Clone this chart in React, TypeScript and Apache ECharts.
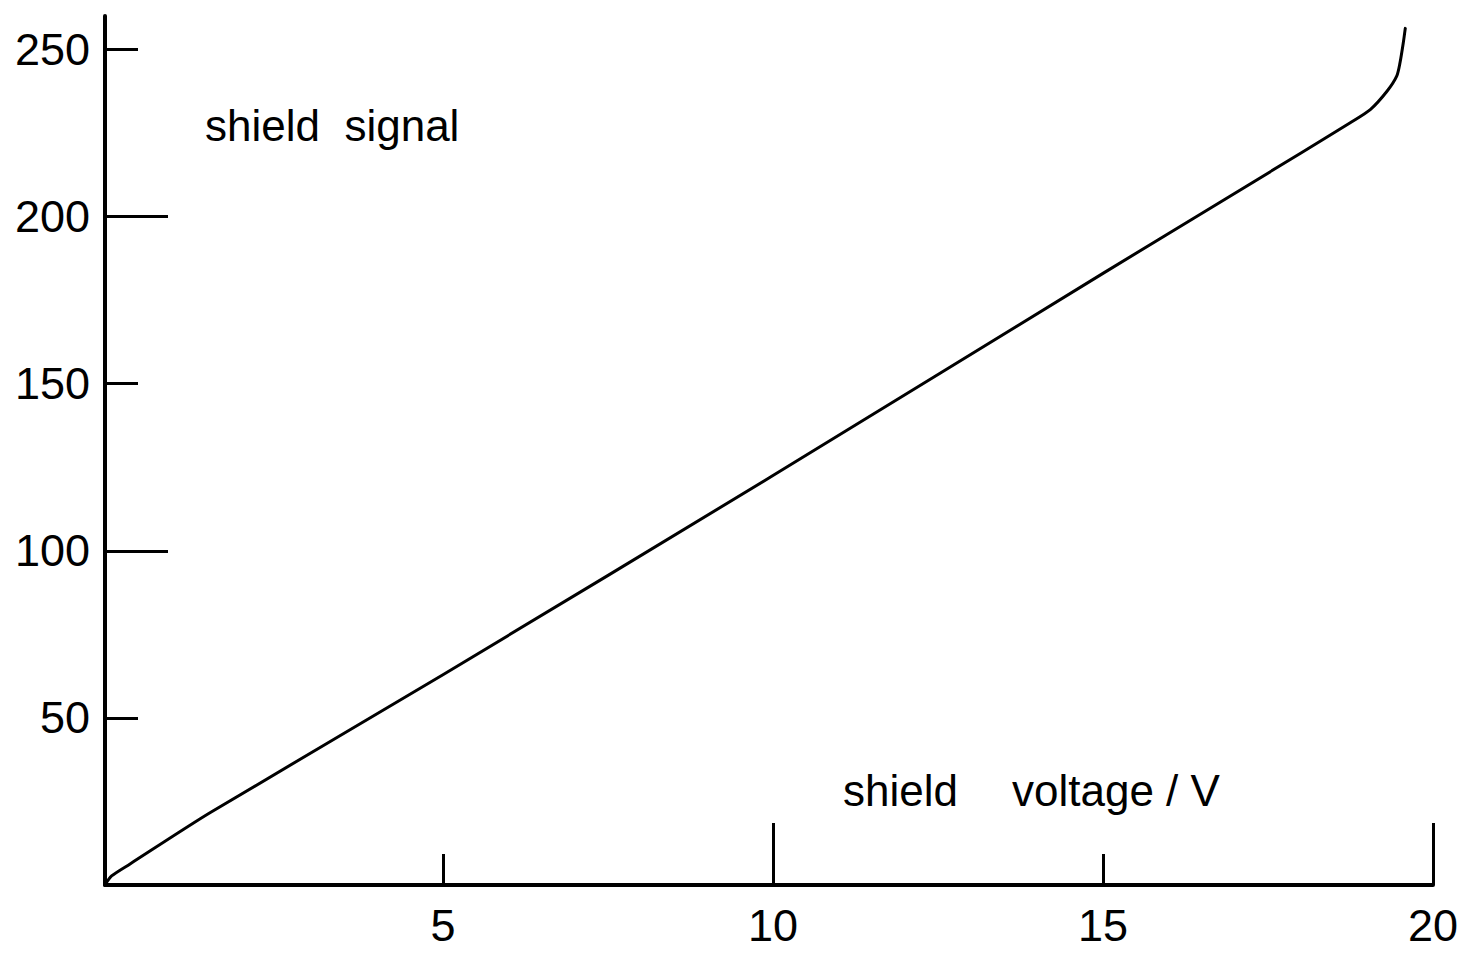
import React, { useEffect, useRef } from "react";
import * as echarts from "echarts";

// Shield signal versus shield voltage
const voltage = [-0.12, -0.02, 0.26, 1.47, 5, 10, 15, 18, 18.74, 19.05, 19.3, 19.45, 19.5, 19.55, 19.58];
const signal = [0, 2.7, 6.3, 21.6, 62.9, 122.5, 183, 219, 228, 232, 237.4, 242, 246, 252, 256.3];

const xLabelValues = [5, 10, 15, 20];
const xShortTicks = [5, 15];
const xLongTicks = [10, 20];
const yLabelValues = [50, 100, 150, 200, 250];
const yShortTicks = [50, 150, 250];
const yLongTicks = [100, 200];

const INK = "#000";
const DIGIT_FONT = "'Liberation Sans', Arial, sans-serif";
const TEXT_FONT = "'Liberation Sans', Arial, sans-serif";

export default function App() {
  const ref = useRef<HTMLDivElement>(null);

  useEffect(() => {
    if (!ref.current) return;
    const chart = echarts.init(ref.current, undefined, { renderer: "svg" });

    const xBase = {
      type: "value",
      min: -0.12,
      max: 20,
      position: "bottom",
      splitLine: { show: false },
    };
    const yBase = {
      type: "value",
      min: 0,
      max: 260,
      position: "left",
      splitLine: { show: false },
    };

    chart.setOption({
      animation: false,
      backgroundColor: "#fff",
      grid: { left: 105, right: 30, top: 16, bottom: 68, containLabel: false },
      xAxis: [
        {
          ...xBase,
          axisLine: { show: true, onZero: false, lineStyle: { color: INK, width: 4 } },
          axisTick: { show: true, inside: true, length: 31, customValues: xShortTicks, lineStyle: { color: INK, width: 3 } },
          axisLabel: {
            show: true,
            customValues: xLabelValues,
            margin: 18,
            color: INK,
            fontSize: 45,
            fontFamily: DIGIT_FONT,
          },
        },
        {
          ...xBase,
          axisLine: { show: false, onZero: false },
          axisTick: { show: true, inside: true, length: 62, customValues: xLongTicks, lineStyle: { color: INK, width: 3 } },
          axisLabel: { show: false },
        },
      ],
      yAxis: [
        {
          ...yBase,
          axisLine: { show: true, onZero: false, lineStyle: { color: INK, width: 4 } },
          axisTick: { show: true, inside: true, length: 33, customValues: yShortTicks, lineStyle: { color: INK, width: 3 } },
          axisLabel: {
            show: true,
            customValues: yLabelValues,
            margin: 15,
            color: INK,
            fontSize: 45,
            fontFamily: DIGIT_FONT,
          },
        },
        {
          ...yBase,
          axisLine: { show: false, onZero: false },
          axisTick: { show: true, inside: true, length: 63, customValues: yLongTicks, lineStyle: { color: INK, width: 3 } },
          axisLabel: { show: false },
        },
      ],
      graphic: [
        {
          type: "text",
          x: 205,
          y: 125,
          style: {
            text: "shield  signal",
            font: `44px ${TEXT_FONT}`,
            fill: INK,
            verticalAlign: "middle",
          },
        },
        {
          type: "text",
          x: 843,
          y: 790,
          style: {
            text: "shield",
            font: `44px ${TEXT_FONT}`,
            fill: INK,
            verticalAlign: "middle",
          },
        },
        {
          type: "text",
          x: 1012,
          y: 790,
          style: {
            text: "voltage / V",
            font: `44px ${TEXT_FONT}`,
            fill: INK,
            verticalAlign: "middle",
          },
        },
      ],
      series: [
        {
          type: "line",
          xAxisIndex: 0,
          yAxisIndex: 0,
          data: voltage.map((v, i) => [v, signal[i]]),
          showSymbol: false,
          smooth: 0.25,
          lineStyle: { color: INK, width: 3, join: "round", cap: "round" },
        },
      ],
    });

    return () => chart.dispose();
  }, []);

  return (
    <div
      ref={ref}
      style={{ position: "fixed", left: 0, top: 0, width: 1463, height: 953, background: "#fff" }}
    />
  );
}
